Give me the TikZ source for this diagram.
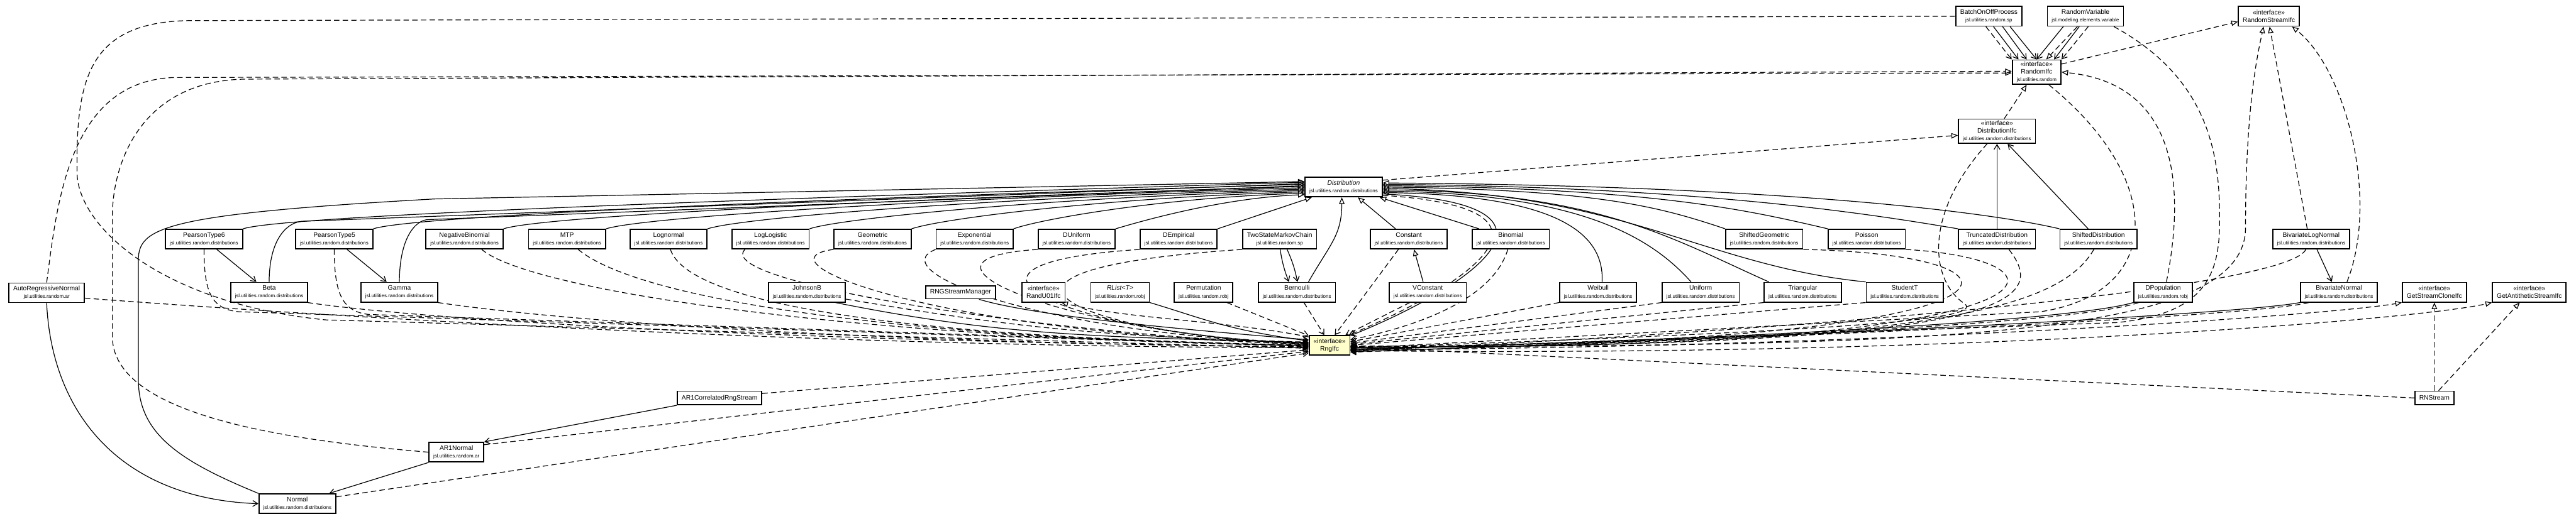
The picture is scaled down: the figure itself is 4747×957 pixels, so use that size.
\documentclass[tikz,border=0pt]{standalone}
\usepackage{fontspec}
\setmainfont{Liberation Sans}
\usetikzlibrary{arrows.meta, backgrounds}

\definecolor{ifcfill}{HTML}{FFFFCC}
\newcommand{\clsfont}{\fontsize{3.4pt}{4pt}\selectfont}
\newcommand{\pkgfont}{\fontsize{2.64pt}{3.2pt}\selectfont}
\newcommand{\distpkg}{{\pkgfont jsl.utilities.random.distributions}}

\begin{document}
\begin{tikzpicture}[x=0.01cm, y=-0.01cm,
  cls/.style={draw, line width=0.6pt, fill=white, align=center, font=\clsfont,
              inner xsep=0.08cm, inner ysep=0.03cm, minimum height=0.36cm},
  gen/.style={line width=0.4pt, -{Triangle[fill=white, length=0.12cm, width=0.1cm]}},
  real/.style={gen, dash pattern=on 0.1cm off 0.06cm},
  assoc/.style={line width=0.4pt, -{Straight Barb[length=0.09cm, width=0.11cm]}},
  dep/.style={assoc, dash pattern=on 0.1cm off 0.06cm}
]
  \useasboundingbox (0,0) rectangle (4747,957);

  % top
  \node[cls] (batch)   at (3665,30)  {BatchOnOffProcess\\{\pkgfont jsl.utilities.random.sp}};
  \node[cls] (randvar) at (3843,30)  {RandomVariable\\{\pkgfont jsl.modeling.elements.variable}};
  \node[cls] (rstream) at (4181,30)  {«interface»\\RandomStreamIfc};
  \node[cls] (randifc) at (3753,133) {«interface»\\RandomIfc\\{\pkgfont jsl.utilities.random}};
  \node[cls] (distifc) at (3680,242) {«interface»\\DistributionIfc\\\distpkg};
  \node[cls] (dist)    at (2476,345) {\textit{Distribution}\\\distpkg};

  % first row
  \node[cls] (pt6)       at (376,441)  {PearsonType6\\\distpkg};
  \node[cls] (pt5)       at (616,441)  {PearsonType5\\\distpkg};
  \node[cls] (negbin)    at (856,441)  {NegativeBinomial\\\distpkg};
  \node[cls] (mtp)       at (1045,441) {MTP\\\distpkg};
  \node[cls] (lognorm)   at (1232,441) {Lognormal\\\distpkg};
  \node[cls] (loglog)    at (1420,441) {LogLogistic\\\distpkg};
  \node[cls] (geom)      at (1608,441) {Geometric\\\distpkg};
  \node[cls] (expo)      at (1796,441) {Exponential\\\distpkg};
  \node[cls] (dunif)     at (1984,441) {DUniform\\\distpkg};
  \node[cls] (demp)      at (2172,441) {DEmpirical\\\distpkg};
  \node[cls] (twostate)  at (2358,441) {TwoStateMarkovChain\\{\pkgfont jsl.utilities.random.sp}};
  \node[cls] (const)     at (2596,441) {Constant\\\distpkg};
  \node[cls] (binom)     at (2784,441) {Binomial\\\distpkg};
  \node[cls] (shgeom)    at (3251,441) {ShiftedGeometric\\\distpkg};
  \node[cls] (poisson)   at (3440,441) {Poisson\\\distpkg};
  \node[cls] (trunc)     at (3680,441) {TruncatedDistribution\\\distpkg};
  \node[cls] (shifted)   at (3867,441) {ShiftedDistribution\\\distpkg};
  \node[cls] (bilognorm) at (4259,441) {BivariateLogNormal\\\distpkg};

  % second row
  \node[cls] (arnorm)   at (86,540)   {AutoRegressiveNormal\\{\pkgfont jsl.utilities.random.ar}};
  \node[cls] (beta)     at (496,539)  {Beta\\\distpkg};
  \node[cls] (gamma)    at (736,539)  {Gamma\\\distpkg};
  \node[cls] (johnson)  at (1487,539) {JohnsonB\\\distpkg};
  \node[cls, minimum height=0.24cm] (rngmgr) at (1770,539) {RNGStreamManager};
  \node[cls] (randu)    at (1923,539) {«interface»\\RandU01Ifc};
  \node[cls] (rlist)    at (2064,539) {\textit{RList<T>}\\{\pkgfont jsl.utilities.random.robj}};
  \node[cls] (perm)     at (2218,539) {Permutation\\{\pkgfont jsl.utilities.random.robj}};
  \node[cls] (bern)     at (2390,539) {Bernoulli\\\distpkg};
  \node[cls] (vconst)   at (2631,539) {VConstant\\\distpkg};
  \node[cls] (weibull)  at (2945,539) {Weibull\\\distpkg};
  \node[cls] (unif)     at (3134,539) {Uniform\\\distpkg};
  \node[cls] (tri)      at (3322,539) {Triangular\\\distpkg};
  \node[cls] (studentt) at (3510,539) {StudentT\\\distpkg};
  \node[cls] (dpop)     at (3986,539) {DPopulation\\{\pkgfont jsl.utilities.random.robj}};
  \node[cls] (binorm)   at (4310,539) {BivariateNormal\\\distpkg};
  \node[cls] (clone)    at (4486,539) {«interface»\\GetStreamCloneIfc};
  \node[cls] (anti)     at (4661,539) {«interface»\\GetAntitheticStreamIfc};

  % lower part
  \node[cls, fill=ifcfill] (rng) at (2450,637) {«interface»\\RngIfc};
  \node[cls, minimum height=0.25cm] (ar1corr)  at (1326,734) {AR1CorrelatedRngStream};
  \node[cls, minimum height=0.25cm] (rnstream) at (4486,734) {RNStream};
  \node[cls] (ar1norm) at (841,834) {AR1Normal\\{\pkgfont jsl.utilities.random.ar}};
  \node[cls] (normal)  at (548,929) {Normal\\\distpkg};

  \begin{scope}[on background layer]
  % subclasses of Distribution
  \draw[gen] (normal.north west) .. controls (330,850) and (255,800) .. (255,700)
    -- (255,480) .. controls (255,420) and (300,395) .. (800,367) -- (dist.172);
  \draw[gen] (pt6.north east) .. controls +(80,-25) and +(-1000,30) .. (dist.173);
  \draw[gen] (beta.north) .. controls +(0,-80) and +(-30,0) .. (560,408) -- (dist.175);
  \draw[gen] (pt5.north east) .. controls +(80,-25) and +(-850,25) .. (dist.176);
  \draw[gen] (gamma.north) .. controls +(0,-80) and +(-25,0) .. (790,405) -- (dist.178);
  \draw[gen] (negbin.north east) .. controls +(80,-25) and +(-700,22) .. (dist.179);
  \draw[gen] (mtp.north east) .. controls +(70,-22) and +(-650,18) .. (dist.181);
  \draw[gen] (lognorm.north east) .. controls +(70,-22) and +(-550,15) .. (dist.183);
  \draw[gen] (loglog.north east) .. controls +(60,-20) and +(-450,12) .. (dist.185);
  \draw[gen] (geom.north east) .. controls +(60,-20) and +(-350,10) .. (dist.187);
  \draw[gen] (expo.north east) .. controls +(50,-18) and +(-260,8) .. (dist.189);
  \draw[gen] (dunif.north east) .. controls +(50,-15) and +(-150,6) .. (dist.191);
  \draw[gen] (demp.north east) -- (dist.-162);
  \draw[gen] (bern.42) .. controls +(40,-70) and +(0,70) .. (dist.-100);
  \draw[gen] (const.142) -- (dist.-36);
  \draw[gen] (binom.162) -- (dist.-16);
  \draw[gen] (vconst.114) -- (const.-63);
  \draw[gen] (weibull.69) .. controls +(5,-100) and +(300,5) .. (dist.-8);
  \draw[gen] (unif.133) .. controls +(-80,-90) and +(350,5) .. (dist.-6);
  \draw[gen] (tri.163) .. controls +(-180,-80) and +(400,5) .. (dist.-4);
  \draw[gen] (studentt.north west) .. controls +(-300,-30) and +(450,8) .. (dist.-2);
  \draw[gen] (shgeom.north west) .. controls +(-120,-40) and +(400,5) .. (dist.0);
  \draw[gen] (poisson.north west) .. controls +(-150,-35) and +(500,5) .. (dist.2);
  \draw[gen] (trunc.north west) .. controls +(-150,-25) and +(600,5) .. (dist.4);
  \draw[gen] (shifted.north west) .. controls +(-150,-35) and +(700,5) .. (dist.6);

  % associations
  \draw[assoc] (pt6.-39) -- (beta.141);
  \draw[assoc] (pt5.-39) -- (gamma.141);
  \draw[assoc] (twostate.-87) to[bend right=6] (bern.128);
  \draw[assoc] (twostate.-54) to[bend left=6] (bern.87);
  \draw[assoc] (bilognorm.-61) -- (binorm.124);
  \draw[assoc] (trunc.north) -- (distifc.south);
  \draw[assoc] (shifted.135) -- (distifc.-50);
  \draw[dep]   (batch.254) -- (randifc.north west);
  \draw[assoc] (batch.-66) -- (randifc.145);
  \draw[assoc] (batch.-37) -- (randifc.128);
  \draw[assoc] (batch.-26) -- (randifc.90);
  \draw[assoc] (randvar.205) -- (randifc.90);
  \draw[real]  (randvar.232) -- (randifc.53);
  \draw[assoc] (randvar.239) -- (randifc.36);
  \draw[dep]   (randvar.285) -- (randifc.north east);
  \draw[assoc] (arnorm.south) .. controls (95,760) and (220,920) .. (normal.west);
  \draw[assoc] (ar1norm.south west) -- (normal.18);
  \draw[assoc] (ar1corr.south west) -- (ar1norm.north east);

  % interfaces
  \draw[real] (dist.10) -- (distifc.186);
  \draw[real] (distifc.60) -- (randifc.232);
  \draw[real] (randifc.18) -- (rstream.190);
  \draw[real] (dpop.72) .. controls +(40,-200) and +(200,20) .. (randifc.east);
  \draw[real] (arnorm.north) .. controls (105,380) and (125,150) .. (320,143) -- (randifc.182);
  \draw[real] (ar1norm.west) .. controls (500,810) and (207,760) .. (207,620) -- (207,400)
    .. controls (207,300) and (260,150) .. (450,146) -- (randifc.178);
  \draw[real] (bilognorm.111) -- (rstream.-86);
  \draw[real] (binorm.52) .. controls +(60,-150) and +(100,80) .. (rstream.-24);
  \draw[real] (rng.-3) .. controls (3600,640) and (4138,620) .. (4138,420)
    .. controls (4138,200) and (4160,100) .. (rstream.-117);
  \draw[real] (rng.158) .. controls +(-150,-30) and +(120,30) .. (randu.-30);
  \draw[real] (rng.-12) .. controls (3500,640) and (4300,580) .. (clone.south west);
  \draw[real] (rng.-14) .. controls (3600,660) and (4450,590) .. (anti.south west);
  \draw[real] (rnstream.north) -- (clone.south);
  \draw[real] (rnstream.60) -- (anti.-133);
  \draw[real] (rnstream.west) -- (rng.-4);

  % uses of RngIfc, left side
  \draw[dep] (batch.west) -- (350,38) .. controls (160,40) and (140,150) .. (142,320)
    .. controls (145,420) and (300,560) .. (600,590) -- (rng.188);
  \draw[dep] (arnorm.-8) .. controls +(600,45) and +(-800,0) .. (rng.186);
  \draw[dep] (pt6.south) .. controls +(0,80) and (390,570) .. (440,575) -- (rng.183);
  \draw[dep] (pt5.south) .. controls +(0,80) and (630,575) .. (680,580) -- (rng.182);
  \draw[dep] (beta.-15) .. controls +(200,30) and +(-1000,-10) .. (rng.184);
  \draw[dep] (gamma.-15) .. controls +(200,30) and +(-900,-10) .. (rng.185);
  \draw[dep] (negbin.-31) .. controls +(80,70) and +(-900,-15) .. (rng.181);
  \draw[dep] (mtp.-43) .. controls +(120,100) and +(-700,-10) .. (rng.180);
  \draw[dep] (lognorm.-80) .. controls +(40,120) and +(-600,-10) .. (rng.179);
  \draw[dep] (loglog.202) .. controls +(-60,60) and +(-500,-20) .. (rng.178);
  \draw[dep] (geom.south west) .. controls +(-150,20) and +(-700,-20) .. (rng.177);
  \draw[dep] (expo.south west) .. controls +(-100,40) and +(-500,-20) .. (rng.176);
  \draw[dep] (dunif.south west) .. controls +(-300,20) and +(-400,-10) .. (rng.175);
  \draw[dep] (demp.south west) .. controls +(-450,30) and +(-400,-10) .. (rng.174);
  \draw[dep] (twostate.south west) .. controls +(-600,40) and +(-400,-10) .. (rng.173);
  \draw[assoc] (johnson.-20) .. controls +(300,60) and +(-400,-10) .. (rng.172);
  \draw[dep] (johnson.-10) .. controls +(300,50) and +(-400,-10) .. (rng.171);
  \draw[assoc] (rngmgr.-21) .. controls +(100,30) and +(-250,-20) .. (rng.165);
  \draw[assoc] (rlist.south east) .. controls +(100,30) and +(-150,-20) .. (rng.168);
  \draw[dep] (perm.-24) -- (rng.155);
  \draw[dep] (bern.-56) -- (rng.117);
  \draw[dep] (const.-135) -- (rng.63);
  \draw[dep] (vconst.-150) -- (rng.33);
  \draw[dep] (binom.-106) .. controls +(-30,100) and +(100,-20) .. (rng.15);
  \draw[assoc] (dist.-10) .. controls +(400,20) and +(200,-80) .. (rng.25);
  \draw[dep] (dist.-12) .. controls +(390,25) and +(190,-80) .. (rng.28);
  \draw[dep] (ar1corr.6) -- (rng.192);
  \draw[dep] (ar1norm.15) -- (rng.196);
  \draw[dep] (normal.10) -- (rng.200);

  % uses of RngIfc, right side
  \draw[dep] (weibull.south west) -- (rng.10);
  \draw[dep] (unif.south west) -- (rng.6);
  \draw[dep] (tri.south west) -- (rng.3);
  \draw[dep] (studentt.south west) -- (rng.0);
  \draw[dep] (shgeom.south east) .. controls (3800,470) and (3800,640) .. (rng.-2);
  \draw[dep] (poisson.south east) .. controls (3850,480) and (3850,650) .. (rng.-4);
  \draw[dep] (trunc.-41) .. controls (3780,560) and (3700,640) .. (rng.-5);
  \draw[dep] (shifted.-114) .. controls (3800,560) and (3600,640) .. (rng.-6);
  \draw[dep] (distifc.-128) .. controls (3540,400) and (3560,520) .. (3620,560)
    .. controls (3660,590) and (3400,610) .. (rng.-7);
  \draw[dep] (randifc.-46) .. controls (3990,330) and (3990,540) .. (3760,575) -- (rng.-8);
  \draw[assoc] (dpop.south west) .. controls +(-100,30) and +(800,-20) .. (rng.-10);
  \draw[dep] (dpop.-157) .. controls +(-100,35) and +(800,-20) .. (rng.-11);
  \draw[dep] (randvar.-20) .. controls (4080,150) and (4092,300) .. (4090,420)
    .. controls (4088,520) and (4050,580) .. (3900,595) -- (rng.-13);
  \draw[dep] (bilognorm.-117) .. controls +(-40,80) and +(700,-30) .. (rng.-15);
  \draw[assoc] (binorm.south west) .. controls +(-100,20) and +(900,-30) .. (rng.-17);
  \draw[dep] (binorm.-161) .. controls +(-100,25) and +(900,-30) .. (rng.-18);
  \end{scope}
\end{tikzpicture}
\end{document}
